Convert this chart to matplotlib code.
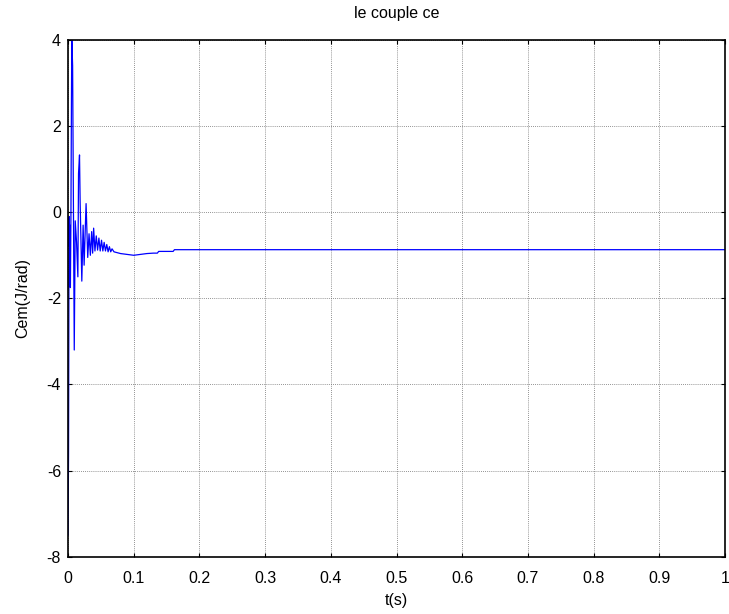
import numpy as np
import matplotlib
matplotlib.use('Agg')
import matplotlib.pyplot as plt

# electromagnetic torque
t = [0.0000, 0.0008, 0.0016, 0.0022, 0.0028, 0.0036, 0.0044, 0.0052, 0.0058,
     0.0070, 0.0095, 0.0110, 0.0130, 0.0150, 0.0160, 0.0175, 0.0185, 0.0210,
     0.0230, 0.0245, 0.0275, 0.0300, 0.0320, 0.0340, 0.0360, 0.0375, 0.0390,
     0.0410, 0.0430, 0.0450, 0.0470, 0.0490, 0.0510, 0.0530, 0.0550, 0.0570,
     0.0590, 0.0610, 0.0630, 0.0650, 0.0670, 0.0700, 0.0750, 0.0800, 0.0850,
     0.0900, 0.0950, 0.1000, 0.1100, 0.1200, 0.1300, 0.1360, 0.1380, 0.1500,
     0.1600, 0.1620, 0.2000, 0.4000, 0.6000, 0.8000, 1.0000]
cem = [-7.5, -5.6, -0.1, -0.8, -0.3, -1.75, -0.2, 2.5, 4.0,
       3.4, -3.2, -0.2, -0.7, -1.5, 0.9, 1.33, 0.2, -1.6,
       -0.3, -1.23, 0.2, -1.05, -0.5, -1.0, -0.45, -0.95, -0.37,
       -0.9, -0.55, -0.88, -0.6, -0.9, -0.65, -0.9, -0.7, -0.9,
       -0.75, -0.92, -0.8, -0.92, -0.85, -0.92, -0.94, -0.96, -0.97,
       -0.98, -0.99, -1.0, -0.98, -0.96, -0.95, -0.95, -0.91, -0.91,
       -0.91, -0.87, -0.87, -0.87, -0.87, -0.87, -0.87]

xticks = np.arange(0, 1.01, 0.1)
yticks = [-8, -6, -4, -2, 0, 2, 4]

plt.rcParams['font.family'] = ['Liberation Sans', 'DejaVu Sans']
plt.rcParams['axes.unicode_minus'] = False

fig = plt.figure(figsize=(7.29, 6.14), dpi=100)
ax = fig.add_axes([0.0933, 0.0933, 0.9012, 0.8416])
ax.plot(t, cem, color='#0000ff', linewidth=0.9)

ax.set_xlim(0, 1)
ax.set_ylim(-8, 4)
ax.set_xticks(xticks)
ax.set_xticklabels(['0', '0.1', '0.2', '0.3', '0.4', '0.5', '0.6', '0.7', '0.8', '0.9', '1'])
ax.set_yticks(yticks)
ax.grid(True, color='#707070', linestyle=(0, (1, 1.5)), linewidth=0.6)
ax.tick_params(direction='in', top=True, right=True, length=3, width=0.8, labelsize=11.5)
ax.tick_params(axis='x', pad=10)
ax.tick_params(axis='y', pad=5)
for s in ax.spines.values():
    s.set_linewidth(1.2)

ax.set_title('le couple ce', fontsize=11.5, pad=16)
ax.set_xlabel('t(s)', fontsize=11.5, labelpad=5)
ax.set_ylabel('Cem(J/rad)', fontsize=11.5, labelpad=12)

plt.savefig('out.png', dpi=100)
